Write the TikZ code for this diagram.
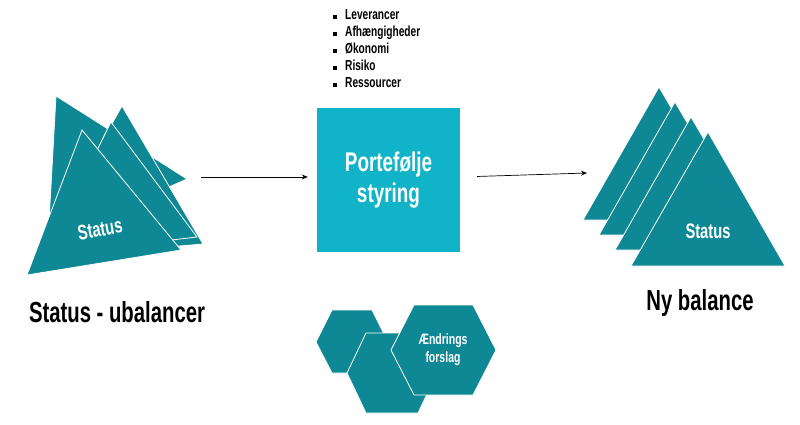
\documentclass[tikz,border=0pt]{standalone}
\usepackage{fontspec}
\setmainfont{Liberation Sans}[FakeStretch=0.7]
\usetikzlibrary{arrows.meta}
\definecolor{petrol}{HTML}{0E8894}
\definecolor{turkis}{HTML}{11B3C8}

\begin{document}
\begin{tikzpicture}[x=1pt,y=-1pt,
  tri/.style={fill=petrol,draw=white,line width=0.8pt},
  hex/.style={fill=petrol,draw=white,line width=0.8pt},
  lbl/.style={text=white,font=\bfseries\fontsize{21}{23}\selectfont},
  title/.style={font=\bfseries\fontsize{29}{31}\selectfont},
  flow/.style={-{Stealth[length=6pt,width=5pt]},line width=0.7pt}]
\useasboundingbox (0,0) rectangle (800,424);

% status - ubalancer
\draw[tri] (56,96)--(187,179)--(48,240)--cycle;
\draw[tri] (122,106)--(203,244)--(36,258)--cycle;
\draw[tri] (111,122)--(197,237)--(45,255)--cycle;
\draw[tri] (82,130)--(181,250)--(27,275)--cycle;
\node[lbl,rotate=10] (st1) at (100,229) {Status};
\node[title] (ub) at (117,312) {Status - ubalancer};

% porteføljestyring
\node[fill=turkis,minimum width=143pt,minimum height=144pt,align=center,
  text=white,font=\bfseries\fontsize{27}{31}\selectfont] (pf) at (388.5,180)
  {Portefølje\\styring};
\node[anchor=north west,align=left,inner sep=0pt,
  font=\bfseries\fontsize{14.5}{17}\selectfont] (liste) at (333,9)
  {\rule{4pt}{4pt}\hspace{8pt}Leverancer\\
   \rule{4pt}{4pt}\hspace{8pt}Afhængigheder\\
   \rule{4pt}{4pt}\hspace{8pt}Økonomi\\
   \rule{4pt}{4pt}\hspace{8pt}Risiko\\
   \rule{4pt}{4pt}\hspace{8pt}Ressourcer};

% ny balance
\draw[tri] (659,87)--(737,220)--(583,220)--cycle;
\draw[tri] (675,102)--(753,235)--(599,235)--cycle;
\draw[tri] (691,117)--(769,250)--(615,250)--cycle;
\draw[tri] (708,132)--(785,266)--(631,266)--cycle;
\node[lbl] (st2) at (708,231) {Status};
\node[title] (nb) at (700,303) {Ny balance};

% pile
\coordinate (ud) at (201,177);
\coordinate (ind) at (587,173);
\draw[flow,shorten >=9pt] (ud) -- (pf.west|-ud);
\draw[flow,shorten <=17pt] (pf.east|-ud) -- (ind);

% ændringsforslag
\draw[hex] (316,342)--(332,310)--(372,310)--(388,342)--(372,373)--(332,373)--cycle;
\draw[hex] (347,373)--(366,333)--(418,333)--(437,373)--(418,413)--(366,413)--cycle;
\draw[hex] (391,350)--(414,305)--(473,305)--(496,350)--(473,395)--(414,395)--cycle;
\node[align=center,text=white,font=\bfseries\fontsize{15}{18}\selectfont] (ae)
  at (443,350) {Ændrings\\forslag};
\end{tikzpicture}
\end{document}
